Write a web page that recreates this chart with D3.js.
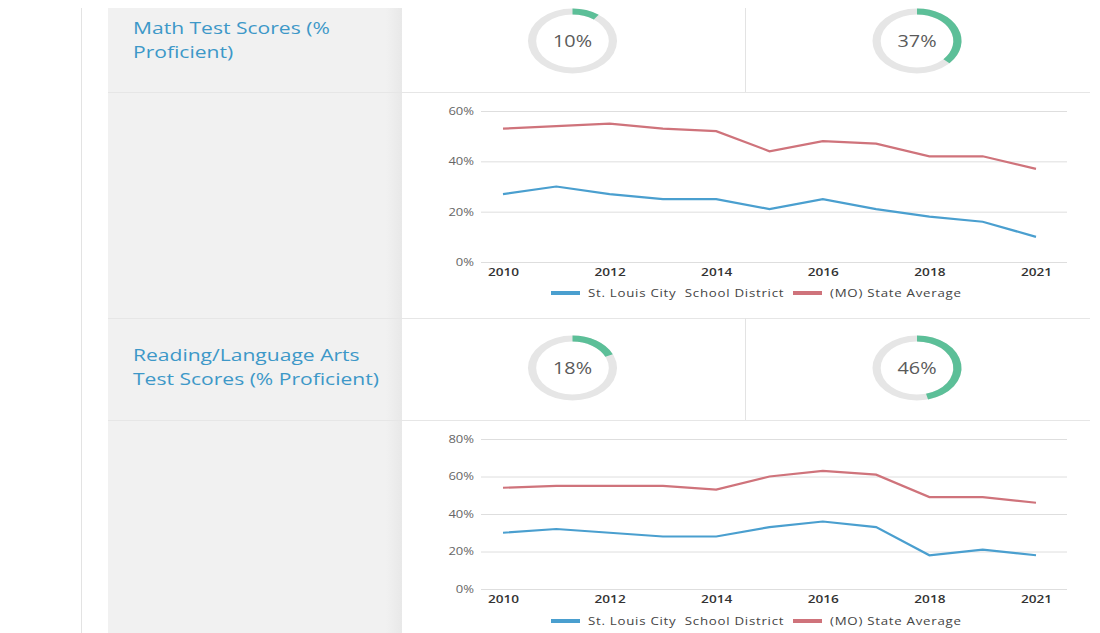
<!DOCTYPE html>
<html>
<head>
<meta charset="utf-8">
<script src="https://cdn.jsdelivr.net/npm/d3@7"></script>
<style>
  body { margin: 0; background: #fff; font-family: "Open Sans", sans-serif; }
  svg { display: block; }
</style>
</head>
<body>
<div id="page"></div>
<script>
// years on the x axis (2020 has no data point)
const years = ["2010","2011","2012","2013","2014","2015","2016","2017","2018","2019","2021"];
const yearLabels = ["2010","2012","2014","2016","2018","2021"];

const mathDistrict = [27, 30, 27, 25, 25, 21, 25, 21, 18, 16, 10];
const mathState    = [53, 54, 55, 53, 52, 44, 48, 47, 42, 42, 37];
const mathTicks = [0, 20, 40, 60];
const mathDonuts = [10, 37];

const readDistrict = [30, 32, 30, 28, 28, 33, 36, 33, 18, 21, 18];
const readState    = [54, 55, 55, 55, 53, 60, 63, 61, 49, 49, 46];
const readTicks = [0, 20, 40, 60, 80];
const readDonuts = [18, 46];

const seriesNames = ["St. Louis City  School District", "(MO) State Average"];
const seriesColors = ["#4a9fcf", "#cf737b"];

const W = 1100, H = 633;
const SX = 1.24;   // the screenshot is stretched sideways

const svg = d3.select("#page").append("svg")
    .attr("width", W)
    .attr("height", H);

// page frame
svg.append("line")
    .attr("x1", 81.5).attr("x2", 81.5).attr("y1", 8).attr("y2", H)
    .attr("stroke", "#e3e3e3");

const defs = svg.append("defs");
const grad = defs.append("linearGradient").attr("id", "shade");
grad.append("stop").attr("offset", "0%").attr("stop-color", "#f1f1f1");
grad.append("stop").attr("offset", "100%").attr("stop-color", "#e8e8e8");

svg.append("rect")
    .attr("x", 108).attr("y", 8).attr("width", 294).attr("height", H - 8)
    .attr("fill", "#f1f1f1");
svg.append("rect")
    .attr("x", 386).attr("y", 8).attr("width", 16).attr("height", H - 8)
    .attr("fill", "url(#shade)");

function stretchedText(g, x, y) {
    return g.append("text")
        .attr("transform", `translate(${x},${y}) scale(${SX},1)`);
}

function section(cfg) {
    const g = svg.append("g");

    // row separators
    cfg.lines.forEach(y => {
        g.append("line")
            .attr("x1", 108).attr("x2", 1090)
            .attr("y1", y + 0.5).attr("y2", y + 0.5)
            .attr("stroke", "#e6e6e6");
    });
    g.append("line")
        .attr("x1", 745.5).attr("x2", 745.5)
        .attr("y1", cfg.top).attr("y2", cfg.headBottom)
        .attr("stroke", "#e3e3e3");

    // title
    stretchedText(g, 133, cfg.titleY)
        .attr("fill", "#3d98c8")
        .attr("font-size", 17)
        .selectAll("tspan")
        .data(cfg.title)
        .join("tspan")
        .attr("x", 0)
        .attr("dy", (d, i) => i ? 24 : 0)
        .text(d => d);

    // donuts
    const arc = d3.arc().innerRadius(26.5).outerRadius(32.5);
    const donutX = [572.5, 917];
    cfg.donuts.forEach((v, i) => {
        const dg = g.append("g")
            .attr("transform", `translate(${donutX[i]},${cfg.donutY}) scale(1.37,1)`);
        dg.append("path")
            .attr("d", arc({startAngle: 0, endAngle: 2 * Math.PI}))
            .attr("fill", "#e6e6e6");
        dg.append("path")
            .attr("d", arc({startAngle: 0, endAngle: 2 * Math.PI * v / 100}))
            .attr("fill", "#5cbf98");
        stretchedText(g, donutX[i], cfg.donutY)
            .attr("text-anchor", "middle")
            .attr("dy", "0.36em")
            .attr("font-size", 16)
            .attr("fill", "#5a5a5a")
            .text(v + "%");
    });

    // chart
    const x = d3.scalePoint()
        .domain(years)
        .range([503, 1036]);
    const y = d3.scaleLinear()
        .domain([0, d3.max(cfg.ticks)])
        .range([cfg.y0, cfg.yTop]);

    const grid = g.append("g")
        .attr("transform", "translate(481,0)")
        .call(d3.axisLeft(y).tickValues(cfg.ticks).tickSize(-586).tickFormat(d => d + "%"));
    grid.select(".domain").remove();
    grid.selectAll(".tick line").attr("stroke", "#dedede");
    grid.selectAll(".tick text")
        .attr("x", -7 / SX)
        .attr("transform", `scale(${SX},1)`)
        .attr("fill", "#666")
        .attr("font-family", "Open Sans, sans-serif")
        .attr("font-size", 10.5);

    const xa = g.append("g")
        .attr("transform", `translate(0,${cfg.y0})`)
        .call(d3.axisBottom(x).tickValues(yearLabels).tickSize(0).tickPadding(6));
    xa.select(".domain").remove();
    xa.selectAll(".tick text")
        .attr("transform", `scale(${SX},1)`)
        .attr("fill", "#333")
        .attr("font-family", "Open Sans, sans-serif")
        .attr("font-weight", 600)
        .attr("font-size", 11);

    const line = d3.line()
        .x((d, i) => x(years[i]))
        .y(d => y(d));
    [cfg.district, cfg.state].forEach((s, i) => {
        g.append("path")
            .datum(s)
            .attr("d", line)
            .attr("fill", "none")
            .attr("stroke", seriesColors[i])
            .attr("stroke-width", 2.2);
    });

    // legend
    const legX = [551, 793];
    seriesNames.forEach((name, i) => {
        g.append("rect")
            .attr("x", legX[i]).attr("y", cfg.legendY - 2)
            .attr("width", 29).attr("height", 4)
            .attr("fill", seriesColors[i]);
        g.append("text")
            .attr("transform", `translate(${legX[i] + 37},${cfg.legendY}) scale(1.21,1)`)
            .attr("dy", "0.35em")
            .attr("fill", "#444")
            .attr("font-size", 11)
            .attr("letter-spacing", 0.6)
            .style("white-space", "pre")
            .text(name);
    });
}

section({
    top: 8, headBottom: 92, lines: [92],
    title: ["Math Test Scores (%", "Proficient)"], titleY: 34,
    donuts: mathDonuts, donutY: 41,
    ticks: mathTicks, y0: 262, yTop: 111,
    district: mathDistrict, state: mathState,
    legendY: 293
});

section({
    top: 318, headBottom: 420, lines: [318, 420],
    title: ["Reading/Language Arts", "Test Scores (% Proficient)"], titleY: 361,
    donuts: readDonuts, donutY: 368,
    ticks: readTicks, y0: 589, yTop: 439,
    district: readDistrict, state: readState,
    legendY: 621
});
</script>
</body>
</html>
